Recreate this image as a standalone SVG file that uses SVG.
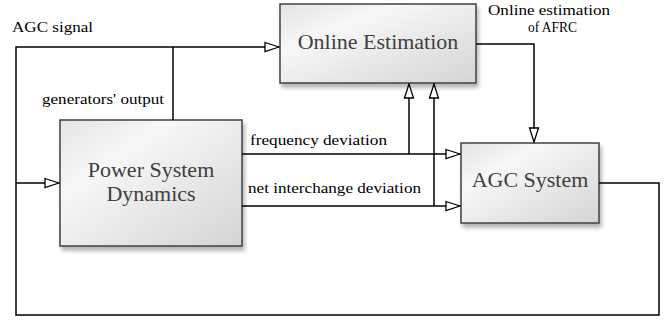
<svg xmlns="http://www.w3.org/2000/svg" width="672" height="320" viewBox="0 0 672 320">
<defs>
<linearGradient id="g" x1="0" y1="0" x2="1" y2="1">
<stop offset="0" stop-color="#e4e4e4"/>
<stop offset="0.3" stop-color="#f7f7f7"/>
<stop offset="1" stop-color="#d4d4d4"/>
</linearGradient>
<filter id="sh" x="-10%" y="-10%" width="130%" height="140%">
<feGaussianBlur in="SourceAlpha" stdDeviation="2"/>
<feOffset dx="2" dy="4" result="b"/>
<feComponentTransfer><feFuncA type="linear" slope="0.3"/></feComponentTransfer>
<feMerge><feMergeNode/><feMergeNode in="SourceGraphic"/></feMerge>
</filter>
<marker id="ar" markerWidth="16" markerHeight="12" refX="15" refY="6" orient="auto" markerUnits="userSpaceOnUse">
<path d="M1,1.5 L15,6 L1,10.5 Z" fill="#fff" stroke="#000" stroke-width="1.3"/>
</marker>
</defs>
<style>
.box{fill:url(#g);stroke:#404040;stroke-width:1.5;filter:url(#sh)}
.big{font-family:"Liberation Serif","Times New Roman",serif;font-size:22px;fill:#404040;text-anchor:middle}
.lbl{font-family:"Liberation Serif","Times New Roman",serif;font-size:15px;fill:#000}
.ln{fill:none;stroke:#000;stroke-width:1.5}
</style>
<rect width="672" height="320" fill="#fff"/>
<g id="online">
<rect class="box" x="280" y="4" width="196" height="79"/>
<text class="big" x="378" y="49">Online Estimation</text>
</g>
<g id="psd">
<rect class="box" x="60" y="120" width="182" height="126"/>
<text class="big" x="151" y="177">Power System</text>
<text class="big" x="151" y="201">Dynamics</text>
</g>
<g id="agc">
<rect class="box" x="461" y="143" width="138" height="80"/>
<text class="big" x="530" y="187">AGC System</text>
</g>
<g id="connectors">
<path class="ln" d="M599,183 H659 V315 H16 V47 H279" marker-end="url(#ar)"/>
<path class="ln" d="M16,183 H59" marker-end="url(#ar)"/>
<path class="ln" d="M173,120 V47"/>
<path class="ln" d="M242,154 H460" marker-end="url(#ar)"/>
<path class="ln" d="M409,154 V84" marker-end="url(#ar)"/>
<path class="ln" d="M242,206 H460" marker-end="url(#ar)"/>
<path class="ln" d="M434,206 V84" marker-end="url(#ar)"/>
<path class="ln" d="M476,44 H534 V142" marker-end="url(#ar)"/>
</g>
<g id="labels">
<text class="lbl" x="12" y="32" textLength="81" lengthAdjust="spacingAndGlyphs">AGC signal</text>
<text class="lbl" x="42" y="104" textLength="122" lengthAdjust="spacingAndGlyphs">generators' output</text>
<text class="lbl" x="250" y="145" textLength="137" lengthAdjust="spacingAndGlyphs">frequency deviation</text>
<text class="lbl" x="248" y="193" textLength="173" lengthAdjust="spacingAndGlyphs">net interchange deviation</text>
<text class="lbl" x="488" y="15" textLength="122" lengthAdjust="spacingAndGlyphs">Online estimation</text>
<text class="lbl" x="528" y="32" textLength="49" lengthAdjust="spacingAndGlyphs">of AFRC</text>
</g>
</svg>
